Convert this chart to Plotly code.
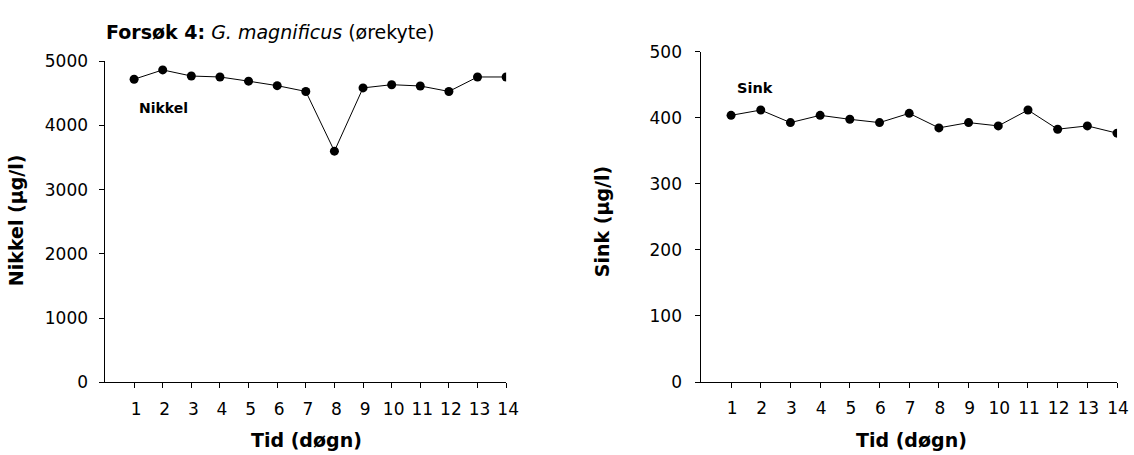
import plotly.graph_objects as go

days = list(range(1, 15))
day_labels = [str(d) for d in days]
nikkel = [4720, 4865, 4770, 4755, 4690, 4620, 4530, 3600, 4585, 4635, 4615, 4530, 4755, 4755]
sink = [404, 412, 393, 404, 398, 393, 407, 385, 393, 388, 412, 383, 388, 377]

W, H = 1134, 455
FONT = "DejaVu Sans"

def px(x):
    return x / W

def py(y):
    return 1 - y / H

fig = go.Figure()
fig.add_trace(go.Scatter(x=days, y=nikkel, mode="lines+markers",
                         line=dict(color="black", width=1),
                         marker=dict(color="black", size=9),
                         xaxis="x", yaxis="y", showlegend=False))
fig.add_trace(go.Scatter(x=days, y=sink, mode="lines+markers",
                         line=dict(color="black", width=1),
                         marker=dict(color="black", size=9),
                         xaxis="x2", yaxis="y2", showlegend=False))

axis_common = dict(showline=True, linecolor="black", linewidth=1, ticks="outside",
                   ticklen=5, tickcolor="black", tickwidth=1, showgrid=False,
                   zeroline=False, tickfont=dict(family=FONT, size=17, color="black"))

fig.update_layout(
    width=W, height=H, margin=dict(l=0, r=0, t=0, b=0),
    paper_bgcolor="white", plot_bgcolor="white",
    xaxis=dict(domain=[px(106.7), px(512)], range=[0, 14], tickvals=days, ticktext=day_labels,
               anchor="y", ticklabelstandoff=6, ticklabelshift=2, **axis_common),
    yaxis=dict(domain=[py(389.6), py(53.6)], range=[0, 5000], dtick=1000, anchor="x",
               ticklabelstandoff=8, **axis_common),
    xaxis2=dict(domain=[px(709.5), px(1130)], range=[0, 14], tickvals=days, ticktext=day_labels,
                anchor="y2", ticklabelstandoff=6, ticklabelshift=1, **axis_common),
    yaxis2=dict(domain=[py(389.1), py(43.9)], range=[0, 500], dtick=100, anchor="x2",
                ticklabelstandoff=10, **axis_common),
)

ann = [
    dict(text="<b>Forsøk 4:</b> <i>G. magnificus</i> (ørekyte)", x=px(105), y=py(23),
         xanchor="left", yanchor="middle", font=dict(size=19)),
    dict(text="<b>Nikkel</b>", x=px(139), y=py(103), xanchor="left", yanchor="middle",
         font=dict(size=14)),
    dict(text="<b>Sink</b>", x=px(744), y=py(82), xanchor="left", yanchor="middle",
         font=dict(size=14.5)),
    dict(text="<b>Tid (døgn)</b>", x=px(310), y=py(450), xanchor="center", yanchor="middle",
         font=dict(size=19)),
    dict(text="<b>Tid (døgn)</b>", x=px(922), y=py(450), xanchor="center", yanchor="middle",
         font=dict(size=19)),
    dict(text="<b>Nikkel (µg/l)</b>", x=px(17), y=py(220), xanchor="center", yanchor="middle",
         textangle=-90, font=dict(size=19)),
    dict(text="<b>Sink (µg/l)</b>", x=px(609), y=py(222), xanchor="center", yanchor="middle",
         textangle=-90, font=dict(size=19)),
]
for a in ann:
    a.update(xref="paper", yref="paper", showarrow=False)
    a["font"] = dict(family=FONT, color="black", size=a["font"]["size"])
fig.update_layout(annotations=ann)

fig.write_html("out.html")
